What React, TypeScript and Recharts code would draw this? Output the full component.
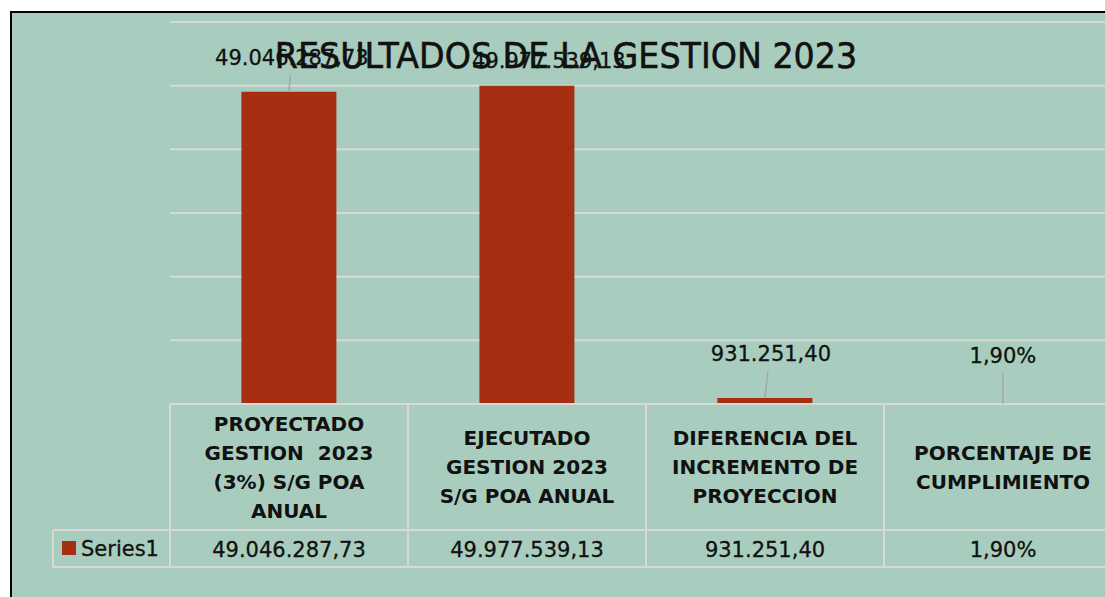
import React from 'react'
import { Bar, BarChart, CartesianGrid, LabelList, XAxis, YAxis } from 'recharts'

// chart data
const categories = [
    'PROYECTADO\nGESTION  2023\n(3%) S/G POA\nANUAL',
    'EJECUTADO\nGESTION 2023\nS/G POA ANUAL',
    'DIFERENCIA DEL\nINCREMENTO DE\nPROYECCION',
    'PORCENTAJE DE\nCUMPLIMIENTO',
]
const values = [49046287.73, 49977539.13, 931251.4, 0.019]
const valueKinds = ['number', 'number', 'number', 'percent']
const yTicks = [0, 10000000, 20000000, 30000000, 40000000, 50000000, 60000000]
const seriesName = 'Series1'
const title = 'RESULTADOS DE LA GESTION 2023'

const data = categories.map((name, i) => ({ name, value: values[i], kind: valueKinds[i] }))

// layout
const W = 1140
const H = 597
const M = { top: 22, right: 18, left: 170, bottom: 0 }
const AXIS_H = 193
const BAND = (W - M.left - M.right) / categories.length
const HEAD_H = 126
const ROW_H = 37
const FONT = '"DejaVu Sans", sans-serif'
const BAR = '#A52F10'
const BG = '#A8CDBE'
const LINE = '#D9D9D9'

// manual label placement like the Excel original
const labelPos = [
    { dx: 3, dy: -27, leader: true },
    { dx: 22, dy: -18, leader: false },
    { dx: 6, dy: -37, leader: true },
    { dx: 0, dy: -41, leader: true },
]

function fmt(v: number, kind: string) {
    if (kind === 'percent') return (v * 100).toFixed(2).replace('.', ',') + '%'
    const [i, d] = v.toFixed(2).split('.')
    return i.replace(/\B(?=(\d{3})+(?!\d))/g, '.') + ',' + d
}

const TableTick = (props: any) => {
    const { x, y, payload } = props
    const i = payload.index
    const left = x - BAND / 2
    const right = left + BAND
    const lines = String(payload.value).split('\n')
    const n = lines.length
    const ln = { stroke: LINE, strokeWidth: 2 }
    return (
        <g>
            <line x1={left} y1={y} x2={right} y2={y} {...ln} />
            <line x1={left} y1={y + HEAD_H} x2={right} y2={y + HEAD_H} {...ln} />
            <line x1={left} y1={y + HEAD_H + ROW_H} x2={right} y2={y + HEAD_H + ROW_H} {...ln} />
            <line x1={left} y1={y} x2={left} y2={y + HEAD_H + ROW_H} {...ln} />
            <line x1={right} y1={y} x2={right} y2={y + HEAD_H + ROW_H} {...ln} />
            {lines.map((t, j) => (
                <text key={j} x={x} y={y + HEAD_H / 2 + (j - (n - 1) / 2) * 29 + 7}
                    textAnchor='middle' fontFamily={FONT} fontWeight='bold' fontSize={20}
                    fill='#111' style={{ whiteSpace: 'pre' }}>{t}</text>
            ))}
            <text x={x} y={y + HEAD_H + 27} textAnchor='middle' fontFamily={FONT} fontSize={21}
                fill='#111' stroke='#111' strokeWidth={0.3}>
                {fmt(values[i], valueKinds[i])}
            </text>
            {i === 0 && (
                <g>
                    <line x1={53} y1={y + HEAD_H} x2={left} y2={y + HEAD_H} {...ln} />
                    <line x1={53} y1={y + HEAD_H + ROW_H} x2={left} y2={y + HEAD_H + ROW_H} {...ln} />
                    <line x1={53} y1={y + HEAD_H} x2={53} y2={y + HEAD_H + ROW_H} {...ln} />
                    <rect x={62} y={y + HEAD_H + 11} width={14} height={14} fill={BAR} />
                    <text x={81} y={y + HEAD_H + 26} fontFamily={FONT} fontSize={21} fill='#111'
                        stroke='#111' strokeWidth={0.3}>{seriesName}</text>
                </g>
            )}
        </g>
    )
}

const BarLabel = (props: any) => {
    const { x, y, width, index } = props
    const p = labelPos[index]
    const cx = x + width / 2
    return (
        <g>
            {p.leader && (
                <line x1={cx + p.dx / 2} y1={y + p.dy + 10} x2={cx} y2={y} stroke='#A6A6A6' strokeWidth={1.5} />
            )}
            <text x={cx + p.dx} y={y + p.dy} textAnchor='middle' fontFamily={FONT} fontSize={21}
                fill='#111' stroke='#111' strokeWidth={0.3}>
                {fmt(values[index], valueKinds[index])}
            </text>
        </g>
    )
}

export default function App() {
    return (
        <div style={{ position: 'absolute', left: 0, top: 0, width: 1105, height: 597, overflow: 'hidden', background: '#fff' }}>
            <div style={{
                position: 'absolute', left: 10, top: 11, width: 1200, height: 700, background: BG,
                borderLeft: '2px solid #000', borderTop: '2px solid #000',
            }} />
            <div style={{ position: 'absolute', left: 0, top: 0 }}>
                <BarChart width={W} height={H} data={data} margin={M} barCategoryGap='30%'>
                    <CartesianGrid vertical={false} stroke={LINE} strokeWidth={2} />
                    <XAxis dataKey='name' height={AXIS_H} interval={0} axisLine={false} tickLine={false}
                        tickSize={0} tickMargin={0} tick={<TableTick />} />
                    <YAxis hide domain={[0, 60000000]} ticks={yTicks} />
                    <Bar dataKey='value' fill={BAR} isAnimationActive={false}>
                        <LabelList dataKey='value' content={<BarLabel />} />
                    </Bar>
                </BarChart>
            </div>
            <div style={{
                position: 'absolute', left: 216, width: 700, top: 35, textAlign: 'center', lineHeight: 'normal',
                fontFamily: FONT, fontSize: 36, color: '#111', whiteSpace: 'nowrap',
                transform: 'scaleX(0.925)', transformOrigin: '350px 0', WebkitTextStroke: '0.6px #111',
            }}>{title}</div>
        </div>
    )
}
